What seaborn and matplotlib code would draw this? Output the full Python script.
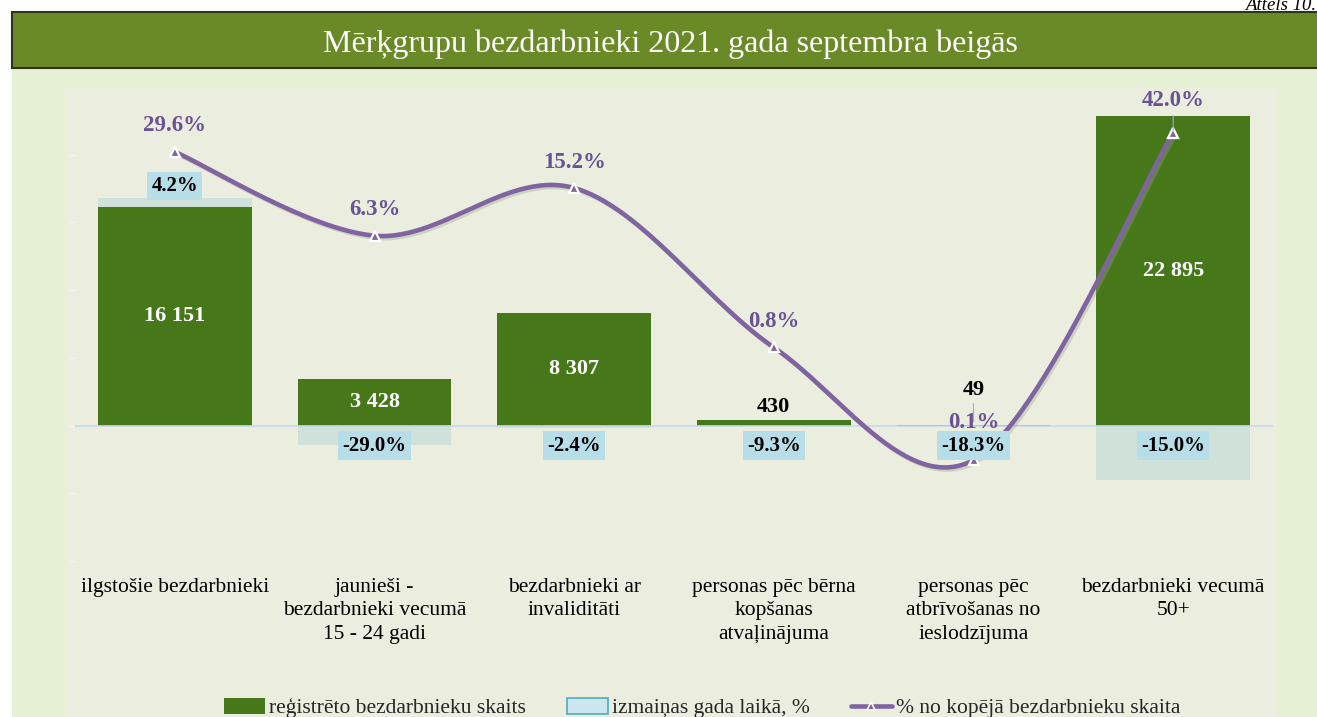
import numpy as np
import pandas as pd
import matplotlib
matplotlib.use("Agg")
import matplotlib.pyplot as plt
import seaborn as sns
from matplotlib.patches import Rectangle, Patch
from matplotlib.lines import Line2D
import matplotlib.patheffects as pe

# ---------------- data ----------------
categories = ["ilgstošie bezdarbnieki",
              "jaunieši -\nbezdarbnieki vecumā\n15 - 24 gadi",
              "bezdarbnieki ar\ninvaliditāti",
              "personas pēc bērna\nkopšanas\natvaļinājuma",
              "personas pēc\natbrīvošanas no\nieslodzījuma",
              "bezdarbnieki vecumā\n50+"]
registered = [16151, 3428, 8307, 430, 49, 22895]
change_pct = [4.2, -29.0, -2.4, -9.3, -18.3, -15.0]
share_pct = [29.6, 6.3, 15.2, 0.8, 0.1, 42.0]

title = "Mērķgrupu bezdarbnieki 2021. gada septembra beigās"
figure_label = "Attēls 10."
legend_labels = ["reģistrēto bezdarbnieku skaits",
                 "izmaiņas gada laikā, %",
                 "% no kopējā bezdarbnieku skaita"]

# ---------------- styling ----------------
DARK = "#46781A"
LIGHT = "#D0E1DA"
BOX = "#B7DEE8"
PURPLE = "#8064A2"
PURPLE_TXT = "#6B5294"

sns.set_theme(style="white")
plt.rcParams['font.family'] = ['Liberation Serif', 'DejaVu Serif']

W, H = 1317, 717
fig = plt.figure(figsize=(W / 100, H / 100), dpi=100)
fig.patch.set_facecolor("white")


def fx(px):
    return px / W


def fy(py):
    return 1 - py / H


# background panels
fig.add_artist(Rectangle((fx(12), 0), 1 - fx(12), fy(68), transform=fig.transFigure,
                         facecolor="#E6F0D5", edgecolor="none", zorder=-10))
fig.add_artist(Rectangle((fx(65), 0), fx(1277) - fx(65), fy(87), transform=fig.transFigure,
                         facecolor="#EBEEDF", edgecolor="none", zorder=-9))
fig.add_artist(Rectangle((fx(12), fy(68)), 1.0, fy(12) - fy(68), transform=fig.transFigure,
                         facecolor="#6A8A28", edgecolor="#2B3518", linewidth=1.5, zorder=-8))
fig.text(fx(670), fy(44), title, ha="center", va="center", color="white", fontsize=23)
fig.text(fx(1316), fy(6), figure_label, ha="right", va="center", fontsize=13.5,
         style="italic", color="black")

# ---------------- main axes ----------------
ax = fig.add_axes([fx(75), fy(561), (1273 - 75) / W, (561 - 87) / H])
ax.set_facecolor("none")

df = pd.DataFrame({"cat": categories, "reg": registered, "chg": change_pct, "share": share_pct})
df["abs_change"] = df["reg"] - df["reg"] / (1 + df["chg"] / 100.0)
# positive changes stack on top of the bar, negative ones hang below zero
df["light_top"] = np.where(df["abs_change"] > 0, df["reg"] + df["abs_change"], df["abs_change"])

sns.barplot(data=df, x="cat", y="light_top", color=LIGHT, saturation=1, width=0.77,
            ax=ax, zorder=1, edgecolor="none", linewidth=0)
sns.barplot(data=df, x="cat", y="reg", color=DARK, saturation=1, width=0.77,
            ax=ax, zorder=2, edgecolor="none", linewidth=0)
ax.set_xlim(-0.5, 5.5)
ax.set_ylim(-10000, 25000)
ax.set_xlabel("")
ax.set_ylabel("")
ax.set_yticks([-10000, -5000, 0, 5000, 10000, 15000, 20000])
ax.set_yticklabels([])
ax.tick_params(axis="y", direction="out", length=4.5, width=1, color="#F7F7F2", left=True)
ax.set_xticks(range(len(categories)))
ax.set_xticklabels(categories, fontsize=15.5, linespacing=1.33, color="black")
ax.tick_params(axis="x", length=0, pad=12)
for s in ax.spines.values():
    s.set_visible(False)
ax.axhline(0, color="#C6D9F0", lw=1.2, zorder=3)

# ---------------- share line (log axis) ----------------
ax2 = ax.twinx()
ax2.set_yscale("log")
ax2.set_ylim(0.0155, 98.2)
ax2.set_facecolor("none")
ax2.set_yticks([])
ax2.minorticks_off()
ax2.tick_params(axis="y", which="both", length=0, labelright=False)
for s in ax2.spines.values():
    s.set_visible(False)

xs = np.arange(len(share_pct), dtype=float)
ly = np.log10(np.array(share_pct))
# Excel-style smoothing (cubic Bezier, Catmull-Rom control points)
P = np.column_stack([xs, ly])
Pext = np.vstack([P[0], P, P[-1]])
curve = []
t = np.linspace(0, 1, 60)[:, None]
for i in range(len(P) - 1):
    p0, p3 = Pext[i + 1], Pext[i + 2]
    c1 = p0 + (Pext[i + 2] - Pext[i]) / 6.0
    c2 = p3 - (Pext[i + 3] - Pext[i + 1]) / 6.0
    seg = (1 - t) ** 3 * p0 + 3 * (1 - t) ** 2 * t * c1 + 3 * (1 - t) * t ** 2 * c2 + t ** 3 * p3
    curve.append(seg)
curve = np.vstack(curve)
ax2.plot(curve[:, 0], 10 ** curve[:, 1], color=PURPLE, lw=3.3, solid_capstyle="round", zorder=4,
         path_effects=[pe.SimpleLineShadow(offset=(1.5, -1.5), shadow_color="#9aa08a", alpha=0.35),
                       pe.Normal()])
ax2.plot(xs, share_pct, ls="none", marker="^", ms=7, mfc=PURPLE, mec="white", mew=1.6, zorder=5)

# ---------------- labels ----------------
share_offsets = {4: 38, 5: 32}
for i, v in enumerate(share_pct):
    ax2.annotate(f"{v:.1f}%", xy=(i, v), xytext=(0, share_offsets.get(i, 26)),
                 textcoords="offset pixels", ha="center", va="center", fontsize=16.5,
                 fontweight="bold", color=PURPLE_TXT, zorder=9)

# leader line for the last share label
ax2.annotate("", xy=(5, share_pct[5]), xytext=(0, 20), textcoords="offset pixels",
             xycoords="data", arrowprops=dict(arrowstyle="-", color="#8DB3E2", lw=0.8), zorder=6)

for i, (v, a, p) in enumerate(zip(registered, df["abs_change"], change_pct)):
    txt = f"{v:,}".replace(",", " ")
    if v > 2000:
        ax2.annotate(txt, xy=(i, v / 2), xycoords=ax.transData, ha="center", va="center",
                     fontsize=16, fontweight="bold", color="white", zorder=8)
    else:
        off = 13 if v > 200 else 35
        ax2.annotate(txt, xy=(i, v), xycoords=ax.transData, xytext=(0, off),
                     textcoords="offset pixels", ha="center", va="center",
                     fontsize=16, fontweight="bold", color="black", zorder=8)
        if off > 20:
            ax2.annotate("", xy=(i, v), xycoords=ax.transData, xytext=(0, off - 11),
                         textcoords="offset pixels",
                         arrowprops=dict(arrowstyle="-", color="#8DB3E2", lw=0.8), zorder=6)
    # change label in a light-blue box
    if a > 0:
        anchor, off = (i, v + a), 12
    else:
        anchor, off = (i, 0), -20
    ax2.annotate(f"{p:.1f}%", xy=anchor, xycoords=ax.transData, xytext=(0, off),
                 textcoords="offset pixels", ha="center", va="center", fontsize=15,
                 fontweight="bold", color="black", zorder=7,
                 bbox=dict(boxstyle="square,pad=0.2", facecolor=BOX, edgecolor="none"))

# ---------------- legend ----------------
handles = [Patch(facecolor=DARK, edgecolor="none"),
           Patch(facecolor="#CDE6EE", edgecolor="#4BACC6", linewidth=1.2),
           Line2D([0], [0], color=PURPLE, lw=3.3, marker="^", ms=6, mfc=PURPLE, mec="white", mew=1.2)]
fig.legend(handles, legend_labels, loc="center", bbox_to_anchor=(fx(702), fy(708)), ncol=3,
           frameon=False, fontsize=15.5, handlelength=1.9, handleheight=0.8, handletextpad=0.2,
           columnspacing=1.9)

fig.savefig("out.png", dpi=100, facecolor=fig.get_facecolor())
